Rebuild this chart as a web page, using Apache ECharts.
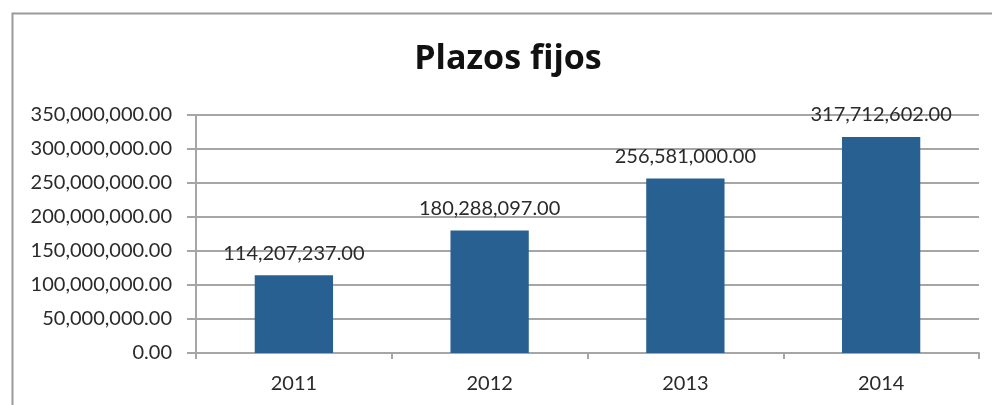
<!DOCTYPE html>
<html><head><meta charset="utf-8">
<script src="https://cdn.jsdelivr.net/npm/echarts@6/dist/echarts.min.js"></script>
<style>html,body{margin:0;padding:0;background:#fff}#c{width:992px;height:405px}</style>
</head><body><div id="c"></div>
<script>
const categories = ['2011', '2012', '2013', '2014'];
const values = [114207237, 180288097, 256581000, 317712602];
const titleText = 'Plazos fijos';

function fmt(v) {
  return Number(v).toLocaleString('en-US', {minimumFractionDigits: 2, maximumFractionDigits: 2});
}
const FONT = 'Lato';
const chart = echarts.init(document.getElementById('c'), null, {renderer: 'canvas'});
chart.setOption({
  animation: false,
  backgroundColor: '#fff',
  graphic: [{
    type: 'rect', left: 10, top: 11, shape: {width: 1000, height: 420},
    style: {fill: 'none', stroke: '#9a9a9a', lineWidth: 2}, silent: true
  }],
  title: {
    text: titleText, left: 508, textAlign: 'center', top: 42, padding: 0,
    textStyle: {fontFamily: 'Open Sans', fontSize: 34, fontWeight: 'bold', color: '#111'}
  },
  grid: {left: 196, right: 13, top: 115, bottom: 52, containLabel: false},
  xAxis: {
    type: 'category', data: categories,
    axisLine: {lineStyle: {color: '#a6a6a6', width: 2}},
    axisTick: {show: true, length: 6, lineStyle: {color: '#a6a6a6', width: 2}},
    axisLabel: {fontFamily: FONT, fontSize: 20, color: '#2a2a2a', margin: 21}
  },
  yAxis: {
    type: 'value', min: 0, max: 350000000, interval: 50000000,
    axisLine: {show: true, lineStyle: {color: '#a6a6a6', width: 2}},
    axisTick: {show: true, length: 9, lineStyle: {color: '#a6a6a6', width: 2}},
    splitLine: {lineStyle: {color: '#a6a6a6', width: 2}},
    axisLabel: {fontFamily: FONT, fontSize: 20, color: '#2a2a2a', margin: 24, formatter: fmt}
  },
  series: [{
    type: 'bar', data: values, barWidth: '40%',
    itemStyle: {color: '#286091'},
    label: {show: true, position: 'top', distance: 12, fontFamily: FONT, fontSize: 20, color: '#2a2a2a',
      formatter: p => fmt(p.value)}
  }]
});
</script></body></html>
